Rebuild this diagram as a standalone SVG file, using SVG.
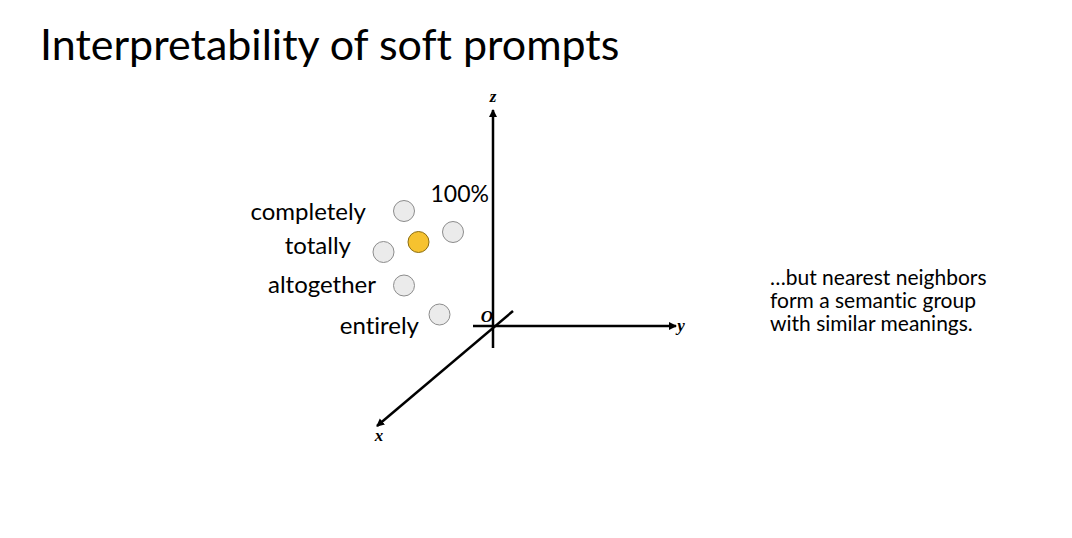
<svg xmlns="http://www.w3.org/2000/svg" width="1072" height="538" viewBox="0 0 1072 538">
<style>
.t{font-family:Lato,"Open Sans","Liberation Sans",sans-serif;fill:#000;font-variant-ligatures:none}
.ax{stroke:#000;stroke-width:2.5;fill:none}
.al{font-family:"Liberation Serif","DejaVu Serif",serif;font-style:italic;font-weight:bold;font-size:17px;fill:#000}
.pt{fill:#ebebeb;stroke:#8c8c8c;stroke-width:1}
</style>
<defs>
<marker id="ah" markerWidth="10" markerHeight="10" refX="7" refY="4.5" orient="auto" markerUnits="userSpaceOnUse">
<path d="M0,0.5 L8,4.5 L0,8.5 Z" fill="#000"/>
</marker>
</defs>
<rect width="1072" height="538" fill="#fff"/>
<text class="t" x="40" y="60" font-size="43">Interpretability of soft prompts</text>
<g id="axes">
<line class="ax" x1="493" y1="348" x2="493" y2="110" marker-end="url(#ah)"/>
<line class="ax" x1="473" y1="326" x2="676" y2="326" marker-end="url(#ah)"/>
<line class="ax" x1="513" y1="311" x2="377" y2="426" marker-end="url(#ah)"/>
</g>
<g id="axis-labels">
<text class="al" x="493" y="102" text-anchor="middle">z</text>
<text class="al" x="681" y="331" text-anchor="middle">y</text>
<text class="al" x="379" y="441" text-anchor="middle">x</text>
<text class="al" x="487" y="322" text-anchor="middle">O</text>
</g>
<g id="node-completely">
<circle class="pt" cx="404" cy="211" r="10.5"/>
<text class="t" x="366" y="220" font-size="24" text-anchor="end">completely</text>
</g>
<g id="node-100">
<circle class="pt" cx="453" cy="232" r="10.5"/>
<text class="t" x="489" y="202" font-size="23" text-anchor="end">100%</text>
</g>
<g id="node-target">
<circle cx="418.5" cy="242" r="10.5" fill="#f6c22f" stroke="#8c6d10" stroke-width="1"/>
</g>
<g id="node-totally">
<circle class="pt" cx="383.5" cy="252" r="10.5"/>
<text class="t" x="351" y="254" font-size="24" text-anchor="end">totally</text>
</g>
<g id="node-altogether">
<circle class="pt" cx="404" cy="285.5" r="10.5"/>
<text class="t" x="376" y="293" font-size="24" text-anchor="end">altogether</text>
</g>
<g id="node-entirely">
<circle class="pt" cx="439.5" cy="314.5" r="10.5"/>
<text class="t" x="419" y="334" font-size="24" text-anchor="end">entirely</text>
</g>
<g id="caption">
<text class="t" x="770" y="285" font-size="21">…but nearest neighbors</text>
<text class="t" x="770" y="308" font-size="21">form a semantic group</text>
<text class="t" x="770" y="331" font-size="21">with similar meanings.</text>
</g>
</svg>
